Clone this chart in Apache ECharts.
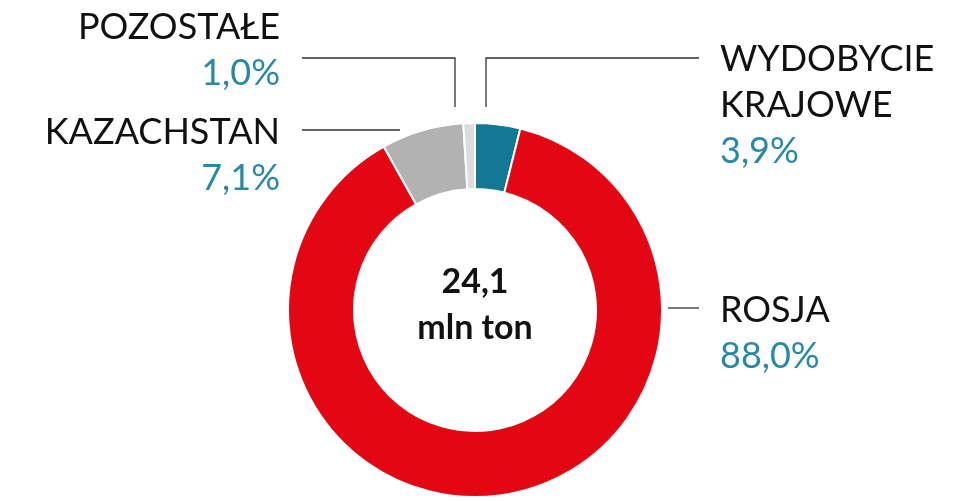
<!DOCTYPE html>
<html>
<head>
<meta charset="utf-8">
<script src="https://cdn.jsdelivr.net/npm/echarts@6/dist/echarts.min.js"></script>
<style>
  html, body { margin: 0; padding: 0; background: #fff; }
  #chart { width: 955px; height: 501px; }
</style>
</head>
<body>
<div id="chart"></div>
<script>
// struktura dostaw — wartości w %
const names = ['WYDOBYCIE\nKRAJOWE', 'ROSJA', 'KAZACHSTAN', 'POZOSTAŁE'];
const shares = [3.9, 88.0, 7.1, 1.0];
const colors = ['#137894', '#e30613', '#b2b2b2', '#dcdcdc'];
const totalLabel = ['24,1', 'mln ton'];

// rozmieszczenie etykiet (x, y, wyrównanie, punkty linii)
const labelSpots = [
  { x: 720, y: 105, align: 'left', line: [[486, 107], [486, 58], [699, 58]] },
  { x: 720, y: 333, align: 'left', line: [[668, 308], [684, 308], [699, 308]] },
  { x: 280, y: 155, align: 'right', line: [[400, 130], [350, 130], [302, 130]] },
  { x: 280, y: 50, align: 'right', line: [[455, 107], [455, 58], [302, 58]] }
];

const fmt = v => v.toFixed(1).replace('.', ',') + '%';

const chart = echarts.init(document.getElementById('chart'), null, { renderer: 'canvas' });
chart.setOption({
  animation: false,
  graphic: [{
    type: 'text',
    x: 475,
    y: 305,
    style: {
      text: totalLabel.join('\n'),
      align: 'center',
      verticalAlign: 'middle',
      font: 'bold 34px Lato',
      lineHeight: 46,
      fill: '#111'
    }
  }],
  series: [{
    type: 'pie',
    center: [475, 310],
    radius: [121, 187],
    startAngle: 90,
    clockwise: true,
    silent: true,
    itemStyle: { borderColor: '#fff', borderWidth: 2 },
    data: names.map((n, i) => ({ name: n, value: shares[i], itemStyle: { color: colors[i] } })),
    label: {
      show: true,
      fontFamily: 'Lato',
      formatter: p => p.name.split('\n').map(s => '{n|' + s + '}').join('\n') + '\n{p|' + fmt(p.value) + '}',
      rich: {
        n: { fontFamily: 'Lato', fontSize: 36, lineHeight: 46, color: '#111' },
        p: { fontFamily: 'Lato', fontSize: 36, lineHeight: 46, color: '#2a88a6' }
      }
    },
    labelLine: { show: true, lineStyle: { color: '#333', width: 1.3 } },
    labelLayout: params => {
      const s = labelSpots[params.dataIndex];
      return { x: s.x, y: s.y, align: s.align, verticalAlign: 'middle', labelLinePoints: s.line };
    }
  }]
});
</script>
</body>
</html>
